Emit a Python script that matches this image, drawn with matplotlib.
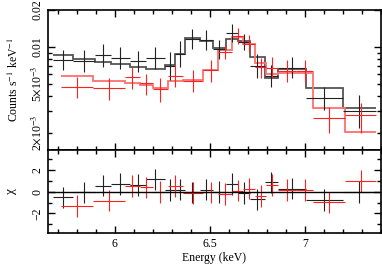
import numpy as np
import matplotlib
matplotlib.use("Agg")
import matplotlib.pyplot as plt
from matplotlib.ticker import FixedLocator, FuncFormatter, MultipleLocator

# ---- black spectrum (energy bin edges in keV) ----
blk_edges = [5.675, 5.780, 5.895, 5.983, 6.079, 6.167, 6.263, 6.316, 6.368,
             6.447, 6.517, 6.584, 6.649, 6.711, 6.789, 6.859, 7.005, 7.201, 7.374]
blk_y = [0.00779, 0.00772, 0.00856, 0.00817, 0.00762, 0.00817, 0.00699, 0.00877, 0.0117,
         0.01149, 0.00961, 0.01305, 0.01098, 0.00699, 0.00575, 0.00677, 0.00383, 0.00301]
blk_hi = [0.0094, 0.00953, 0.01066, 0.0100, 0.00928, 0.0100, 0.00911, 0.01119, 0.01412,
          0.01385, 0.01149, 0.0155, 0.01285, 0.00884, 0.0071, 0.00829, 0.00473, 0.00405]
blk_lo = [0.00646, 0.00626, 0.00688, 0.00667, 0.00626, 0.00667, 0.00536, 0.00688, 0.0097,
          0.00953, 0.00805, 0.01098, 0.0094, 0.00553, 0.00467, 0.00553, 0.00305, 0.00217]
blk_model = [0.00856, 0.00794, 0.00758, 0.00723, 0.0069, 0.00659, 0.0071, 0.00872, 0.01177,
             0.01113, 0.00985, 0.01155, 0.01113, 0.00825, 0.00556, 0.00659, 0.00459, 0.00315]
blk_chi = [-0.52, -0.06, 0.56, 0.74, 0.62, 1.15, 0.15, 0.2, -0.06,
           0.2, 0.0, 0.7, -0.1, -0.7, 0.86, 0.3, -0.77, 0.0]

# ---- red spectrum ----
red_edges = [5.719, 5.885, 6.053, 6.132, 6.202, 6.280, 6.359, 6.465, 6.544,
             6.619, 6.675, 6.737, 6.798, 6.859, 6.956, 7.044, 7.211, 7.377]
red_y = [0.00467, 0.00459, 0.00567, 0.00504, 0.00453, 0.00583, 0.00526, 0.00646, 0.00914,
         0.01229, 0.01066, 0.00688, 0.00677, 0.00634, 0.00634, 0.00262, 0.00278]
red_hi = [0.00564, 0.00553, 0.00684, 0.00607, 0.00556, 0.0071, 0.00646, 0.00779, 0.01052,
          0.0142, 0.01245, 0.00809, 0.00825, 0.00779, 0.00779, 0.00325, 0.00346]
red_lo = [0.0038, 0.00368, 0.00453, 0.00405, 0.00357, 0.0047, 0.0043, 0.00519, 0.00794,
          0.01052, 0.00906, 0.00556, 0.00556, 0.00516, 0.00516, 0.00197, 0.00197]
red_model = [0.00578, 0.00526, 0.0051, 0.00488, 0.00459, 0.00526, 0.00536, 0.00646, 0.0094,
             0.01206, 0.0105, 0.00733, 0.0060, 0.00614, 0.00614, 0.00315, 0.00203]
red_chi = [-1.32, -0.83, 0.53, 0.40, 0.0, 0.53, -0.1, -0.05, -0.2,
           0.1, 0.3, -0.4, 0.62, 0.15, 0.15, -0.98, 0.99]

plt.rcParams['font.family'] = ['Liberation Serif', 'DejaVu Serif']
plt.rcParams['mathtext.fontset'] = 'stix'
plt.rcParams['font.size'] = 8.5

fig = plt.figure(figsize=(3.82, 2.65), dpi=100)
ax1 = fig.add_axes([0.1257, 0.435, 0.8713, 0.527])
ax2 = fig.add_axes([0.1257, 0.122, 0.8713, 0.313])


def draw_set(edges, y, lo, hi, model, chi, dcol, mcol):
    e = np.array(edges)
    y = np.array(y)
    xc = (e[:-1] + e[1:]) / 2
    hw = (e[1:] - e[:-1]) / 2
    ax1.stairs(model, e, baseline=None, color=mcol, lw=1.3)
    ax1.errorbar(xc, y, xerr=hw, yerr=[y - np.array(lo), np.array(hi) - y],
                 fmt='none', ecolor=dcol, elinewidth=0.8)
    ax2.errorbar(xc, chi, xerr=hw, yerr=1.0, fmt='none', ecolor=dcol, elinewidth=0.8)


draw_set(blk_edges, blk_y, blk_lo, blk_hi, blk_model, blk_chi, '#222222', '#555555')
draw_set(red_edges, red_y, red_lo, red_hi, red_model, red_chi, '#ff2020', '#ff7070')

ax2.axhline(0, color='black', lw=1.0)

for ax in (ax1, ax2):
    ax.set_xlim(5.65, 7.4)
    ax.xaxis.set_major_locator(FixedLocator([6, 6.5, 7]))
    ax.xaxis.set_minor_locator(MultipleLocator(0.1))
    ax.tick_params(which='both', direction='in', top=True, right=True, width=1.0)
    ax.tick_params(which='major', length=5)
    ax.tick_params(which='minor', length=3)
    for s in ax.spines.values():
        s.set_linewidth(1.2)

ax1.set_yscale('log')
ax1.set_ylim(0.00145, 0.02)
ax1.yaxis.set_major_locator(FixedLocator([0.01, 0.02]))
ax1.yaxis.set_major_formatter(FuncFormatter(lambda v, p: '%g' % v))
ax1.yaxis.set_minor_locator(FixedLocator([0.002, 0.003, 0.004, 0.005, 0.006, 0.007, 0.008, 0.009]))
minor_lab = {0.002: r'2$\times$10$^{-3}$', 0.005: r'5$\times$10$^{-3}$'}
ax1.yaxis.set_minor_formatter(FuncFormatter(
    lambda v, p: next((t for k, t in minor_lab.items() if abs(v - k) < 1e-6), '')))
ax1.tick_params(axis='x', labelbottom=False)
ax1.set_ylabel(r'Counts s$^{-1}$ keV$^{-1}$', labelpad=6)

ax2.set_ylim(-3.8, 3.9)
ax2.yaxis.set_major_locator(FixedLocator([-2, 0, 2]))
ax2.yaxis.set_minor_locator(FixedLocator([-3, -1, 1, 3]))
ax2.yaxis.set_major_formatter(FuncFormatter(lambda v, p: '%d' % v if v >= 0 else '\u2212%d' % -v))
ax2.set_ylabel('\u03c7', labelpad=10, fontsize=9.5)
ax2.set_xlabel('Energy (keV)', labelpad=2)
ax2.xaxis.set_major_formatter(FuncFormatter(lambda v, p: '%g' % v))

for ax in (ax1, ax2):
    for lab in ax.get_yticklabels(which='both'):
        lab.set_rotation(90)
        lab.set_va('center')

fig.savefig('out.png', dpi=100)
